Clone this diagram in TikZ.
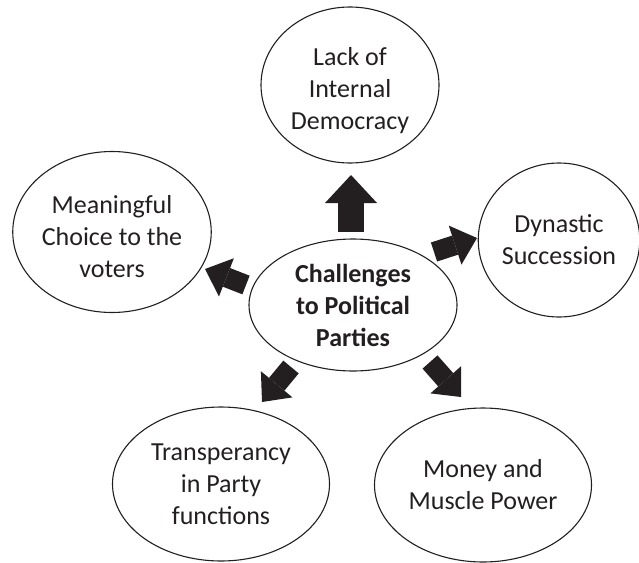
\documentclass[tikz,border=0pt]{standalone}
\usepackage{fontspec}
\setmainfont{Carlito}
\usetikzlibrary{shapes.geometric,arrows.meta}
\definecolor{ink}{HTML}{231F20}
\tikzset{
  bubble/.style={draw=ink, line width=1.1pt, ellipse, inner sep=0pt, align=center,
    text=ink, font=\fontsize{26}{32}\selectfont},
  hub/.style={bubble, font=\fontsize{26}{32}\selectfont\bfseries},
  bigarrow/.style={draw=ink, line width=26pt,
    -{Triangle[width=52pt,length=28pt,line width=0pt]}},
  smallarrow/.style={draw=ink, line width=20pt,
    -{Triangle[width=41pt,length=23pt,line width=0pt]}}
}
\begin{document}
\begin{tikzpicture}[x=1pt,y=-1pt]
\useasboundingbox (0,0) rectangle (639,562);
\node[hub, minimum width=208pt, minimum height=132pt] (c) at (353,305) {Challenges\\to Political\\Parties};
\node[bubble, minimum width=178pt, minimum height=156pt] (top) at (350,85) {\rule{0pt}{30pt}Lack of\\Internal\\Democracy};
\node[bubble, minimum width=198pt, minimum height=161pt] (left) at (112,232) {\rule{0pt}{28pt}Meaningful\\Choice to the\\voters};
\node[bubble, minimum width=158pt, minimum height=154pt] (right) at (559,240) {Dynastic\\Succession};
\node[bubble, minimum width=217pt, minimum height=154pt] (bl) at (221,484) {Transperancy\\in Party\\functions};
\node[bubble, minimum width=217pt, minimum height=154pt] (br) at (483,485) {Money and\\Muscle Power};
% arrow ends
\coordinate (upS) at (351,232); \coordinate (upE) at (351,175);
\coordinate (rS) at (434,252);  \coordinate (rE) at (477,238);
\coordinate (lS) at (246,285);  \coordinate (lE) at (205,269);
\coordinate (blS) at (291,367); \coordinate (blE) at (262,402);
\coordinate (brS) at (430,362); \coordinate (brE) at (461,397);
\draw[bigarrow] (upS) -- (upE);
\draw[smallarrow] (rS) -- (rE);
\draw[smallarrow] (lS) -- (lE);
\draw[smallarrow] (blS) -- (blE);
\draw[smallarrow] (brS) -- (brE);
\end{tikzpicture}
\end{document}
